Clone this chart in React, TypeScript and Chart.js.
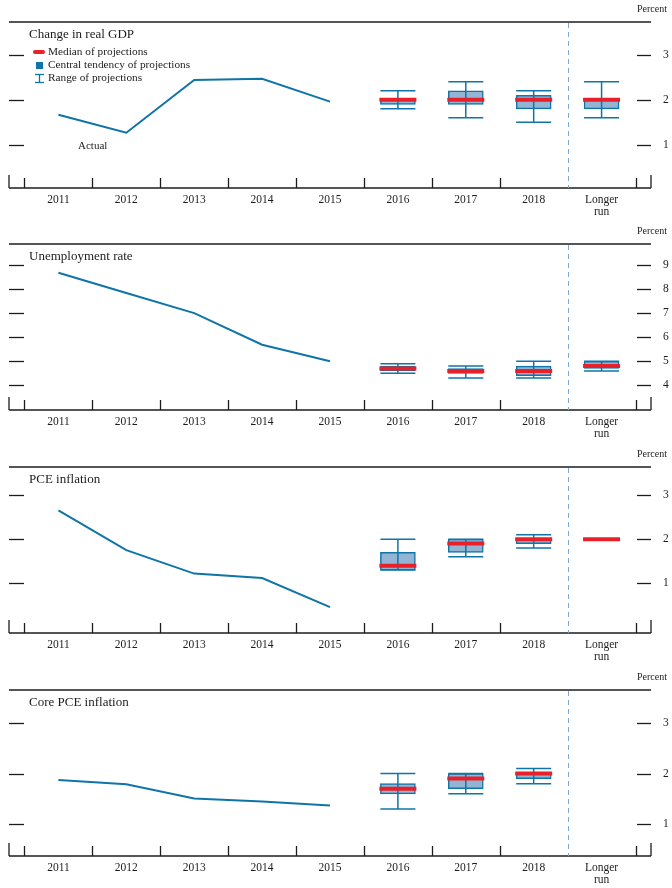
import React, { useEffect, useRef } from "react";
import { Chart, registerables } from "chart.js";

Chart.register(...registerables);

// ---------- data ----------
const categories = ["2011", "2012", "2013", "2014", "2015", "2016", "2017", "2018", "Longer run"];
const actualX = [0, 1, 2, 3, 4];
const projX = [5, 6, 7, 8];

const gdpActual = [1.67, 1.27, 2.44, 2.47, 1.96];
const gdpMedian = [2.0, 2.0, 2.0, 2.0];
const gdpCtLow = [1.9, 1.9, 1.8, 1.8];
const gdpCtHigh = [2.0, 2.2, 2.1, 2.0];
const gdpRangeLow = [1.8, 1.6, 1.5, 1.6];
const gdpRangeHigh = [2.2, 2.4, 2.2, 2.4];
const gdpTicks = [1, 2, 3];

const unActual = [8.69, 7.85, 7.01, 5.69, 5.0];
const unMedian = [4.7, 4.6, 4.6, 4.8];
const unCtLow = [4.6, 4.5, 4.4, 4.7];
const unCtHigh = [4.8, 4.7, 4.8, 5.0];
const unRangeLow = [4.5, 4.3, 4.3, 4.6];
const unRangeHigh = [4.9, 4.8, 5.0, 5.0];
const unTicks = [4, 5, 6, 7, 8, 9];

const pceActual = [2.65, 1.75, 1.22, 1.12, 0.46];
const pceMedian = [1.4, 1.9, 2.0, 2.0];
const pceCtLow = [1.3, 1.7, 1.9, null];
const pceCtHigh = [1.7, 2.0, 2.0, null];
const pceRangeLow = [1.3, 1.6, 1.8, null];
const pceRangeHigh = [2.0, 2.0, 2.1, null];
const pceTicks = [1, 2, 3];

const coreActual = [1.87, 1.79, 1.51, 1.45, 1.37];
const coreMedian = [1.7, 1.9, 2.0, null];
const coreCtLow = [1.6, 1.7, 1.9, null];
const coreCtHigh = [1.8, 2.0, 2.0, null];
const coreRangeLow = [1.3, 1.6, 1.8, null];
const coreRangeHigh = [2.0, 2.0, 2.1, null];
const coreTicks = [1, 2, 3];

const legendLabels = ["Median of projections", "Central tendency of projections", "Range of projections"];

// ---------- styles ----------
const SERIF = '"Liberation Serif", "Times New Roman", serif';
const BLUE = "#0f74a8";
const BOX_FILL = "#94b4d4";
const RED = "#e8202a";
const DASH = "#80a8cc";
const INK = "#1c1c1c";

type PanelDef = {
  title: string;
  actual: number[];
  median: (number | null)[];
  ctLow: (number | null)[];
  ctHigh: (number | null)[];
  rangeLow: (number | null)[];
  rangeHigh: (number | null)[];
  ticks: number[];
  yMin: number;
  yMax: number;
  top: number;
  legend?: boolean;
  actualLabel?: boolean;
};

const panels: PanelDef[] = [
  { title: "Change in real GDP", actual: gdpActual, median: gdpMedian, ctLow: gdpCtLow, ctHigh: gdpCtHigh, rangeLow: gdpRangeLow, rangeHigh: gdpRangeHigh, ticks: gdpTicks, yMin: 0.04, yMax: 3.73, top: 0, legend: true, actualLabel: true },
  { title: "Unemployment rate", actual: unActual, median: unMedian, ctLow: unCtLow, ctHigh: unCtHigh, rangeLow: unRangeLow, rangeHigh: unRangeHigh, ticks: unTicks, yMin: 2.97, yMax: 9.89, top: 222 },
  { title: "PCE inflation", actual: pceActual, median: pceMedian, ctLow: pceCtLow, ctHigh: pceCtHigh, rangeLow: pceRangeLow, rangeHigh: pceRangeHigh, ticks: pceTicks, yMin: -0.125, yMax: 3.634, top: 445 },
  { title: "Core PCE inflation", actual: coreActual, median: coreMedian, ctLow: coreCtLow, ctHigh: coreCtHigh, rangeLow: coreRangeLow, rangeHigh: coreRangeHigh, ticks: coreTicks, yMin: 0.376, yMax: 3.644, top: 668 },
];

const CANVAS_W = 672;
const CANVAS_H = 220;
const WHISKER_HALF = 17.5;

function makePlugin(p: PanelDef) {
  const seg = (ctx: CanvasRenderingContext2D, x1: number, y1: number, x2: number, y2: number) => {
    ctx.beginPath();
    ctx.moveTo(x1, y1);
    ctx.lineTo(x2, y2);
    ctx.stroke();
  };
  return {
    id: "fomcFrame",
    beforeDatasetsDraw(chart: any) {
      const { ctx, chartArea: a, scales } = chart;
      const x = scales.x;
      const y = scales.y;
      ctx.save();
      ctx.strokeStyle = INK;
      ctx.lineWidth = 1.3;
      seg(ctx, a.left, a.top, a.right, a.top);
      seg(ctx, a.left, a.bottom, a.right, a.bottom);
      seg(ctx, a.left, a.bottom - 13, a.left, a.bottom);
      seg(ctx, a.right, a.bottom - 13, a.right, a.bottom);
      for (let i = 0; i < categories.length; i++) {
        const b = i - 0.5;
        if (i === categories.length - 1) continue; // dashed separator instead
        const px = Math.round(x.getPixelForValue(b)) + 0.5;
        seg(ctx, px, a.bottom - 10, px, a.bottom);
      }
      const lastB = Math.round(x.getPixelForValue(categories.length - 0.5)) + 0.5;
      seg(ctx, lastB, a.bottom - 10, lastB, a.bottom);
      for (const t of p.ticks) {
        const py = Math.round(y.getPixelForValue(t)) + 0.5;
        seg(ctx, a.left, py, a.left + 15, py);
        seg(ctx, a.right - 14, py, a.right, py);
      }
      // dashed separator
      ctx.strokeStyle = DASH;
      ctx.lineWidth = 1;
      ctx.setLineDash([5, 4]);
      const dx = Math.round(x.getPixelForValue(categories.length - 1.5)) + 0.5;
      seg(ctx, dx, a.top + 1, dx, a.bottom);
      ctx.setLineDash([]);

      // texts
      ctx.fillStyle = INK;
      ctx.textBaseline = "middle";
      ctx.textAlign = "left";
      ctx.font = `13px ${SERIF}`;
      ctx.fillText(p.title, 29, a.top + 12.5);

      ctx.font = `11.5px ${SERIF}`;
      for (const t of p.ticks) {
        ctx.fillText(String(t), a.right + 12, y.getPixelForValue(t));
      }
      ctx.font = `10px ${SERIF}`;
      ctx.textAlign = "right";
      ctx.fillText("Percent", 667, a.top - 13);

      ctx.textAlign = "center";
      ctx.font = `11.5px ${SERIF}`;
      categories.forEach((c, i) => {
        const cx = x.getPixelForValue(i);
        const parts = c.split(" ");
        parts.forEach((part, k) => {
          ctx.fillText(part, cx, a.bottom + 12 + k * 12);
        });
      });

      if (p.actualLabel) {
        ctx.textAlign = "left";
        ctx.font = `11px ${SERIF}`;
        ctx.fillText("Actual", 78, 146);
      }

      if (p.legend) {
        ctx.textAlign = "left";
        ctx.font = `11.3px ${SERIF}`;
        ctx.strokeStyle = RED;
        ctx.lineWidth = 4;
        ctx.lineCap = "round";
        seg(ctx, 35, 52, 43, 52);
        ctx.lineCap = "butt";
        ctx.fillText(legendLabels[0], 48, 52);
        ctx.fillStyle = BLUE;
        ctx.fillRect(36, 62, 7, 7);
        ctx.fillStyle = INK;
        ctx.fillText(legendLabels[1], 48, 65.5);
        ctx.strokeStyle = BLUE;
        ctx.lineWidth = 1.3;
        seg(ctx, 35, 74.5, 44, 74.5);
        seg(ctx, 35, 82.5, 44, 82.5);
        seg(ctx, 39.5, 74.5, 39.5, 82.5);
        ctx.fillText(legendLabels[2], 48, 78.5);
      }
      ctx.restore();
    },
    afterDatasetDraw(chart: any, args: any) {
      if (args.meta.type !== "bar") return;
      const { ctx, scales } = chart;
      const x = scales.x;
      const y = scales.y;
      ctx.save();
      ctx.strokeStyle = BLUE;
      ctx.lineWidth = 1.5;
      projX.forEach((xi, k) => {
        const lo = p.rangeLow[k];
        const hi = p.rangeHigh[k];
        if (lo == null || hi == null) return;
        const cx = x.getPixelForValue(xi);
        const yl = y.getPixelForValue(lo);
        const yh = y.getPixelForValue(hi);
        seg(ctx, cx, yl, cx, yh);
        seg(ctx, cx - WHISKER_HALF, yl, cx + WHISKER_HALF, yl);
        seg(ctx, cx - WHISKER_HALF, yh, cx + WHISKER_HALF, yh);
      });
      ctx.restore();
    },
  };
}

function buildConfig(p: PanelDef): any {
  const boxData = projX
    .map((xi, k) => (p.ctLow[k] == null || p.ctHigh[k] == null ? null : { x: xi, y: [p.ctLow[k], p.ctHigh[k]] }))
    .filter((d) => d !== null);
  const medianData = projX
    .map((xi, k) => (p.median[k] == null ? null : { x: xi, y: p.median[k] }))
    .filter((d) => d !== null);
  const actualData = actualX.map((xi, k) => ({ x: xi, y: p.actual[k] }));
  return {
    type: "scatter",
    data: {
      datasets: [
        {
          type: "bar",
          label: "Central tendency",
          data: boxData,
          backgroundColor: BOX_FILL,
          borderColor: BLUE,
          borderWidth: 1.5,
          borderSkipped: false,
          barThickness: 35,
          order: 3,
        },
        {
          type: "line",
          label: "Actual",
          data: actualData,
          borderColor: BLUE,
          borderWidth: 2,
          pointRadius: 0,
          tension: 0,
          fill: false,
          order: 2,
        },
        {
          type: "scatter",
          label: "Median",
          data: medianData,
          showLine: false,
          pointStyle: "line",
          pointRadius: 18.5,
          pointHoverRadius: 18.5,
          pointBorderWidth: 4,
          pointBorderColor: RED,
          pointBackgroundColor: RED,
          order: 1,
        },
      ],
    },
    options: {
      animation: false,
      responsive: false,
      events: [],
      layout: { autoPadding: false, padding: { left: 9, right: CANVAS_W - 651, top: 22, bottom: CANVAS_H - 188 } },
      plugins: { legend: { display: false }, tooltip: { enabled: false } },
      scales: {
        x: { type: "linear", min: -0.728, max: 8.728, offset: false, display: false, grid: { offset: false } },
        y: { type: "linear", min: p.yMin, max: p.yMax, display: false },
      },
    },
    plugins: [makePlugin(p)],
  };
}

function PanelChart({ p }: { p: PanelDef }) {
  const ref = useRef<HTMLCanvasElement>(null);
  useEffect(() => {
    if (!ref.current) return;
    const chart = new Chart(ref.current, buildConfig(p));
    return () => chart.destroy();
  }, [p]);
  return (
    <canvas
      ref={ref}
      width={CANVAS_W}
      height={CANVAS_H}
      style={{ position: "absolute", left: 0, top: p.top, width: CANVAS_W, height: CANVAS_H }}
    />
  );
}

export default function App() {
  return (
    <div style={{ position: "absolute", left: 0, top: 0, width: 672, height: 888, overflow: "hidden", background: "#fff" }}>
      {panels.map((p) => (
        <PanelChart key={p.title} p={p} />
      ))}
    </div>
  );
}
